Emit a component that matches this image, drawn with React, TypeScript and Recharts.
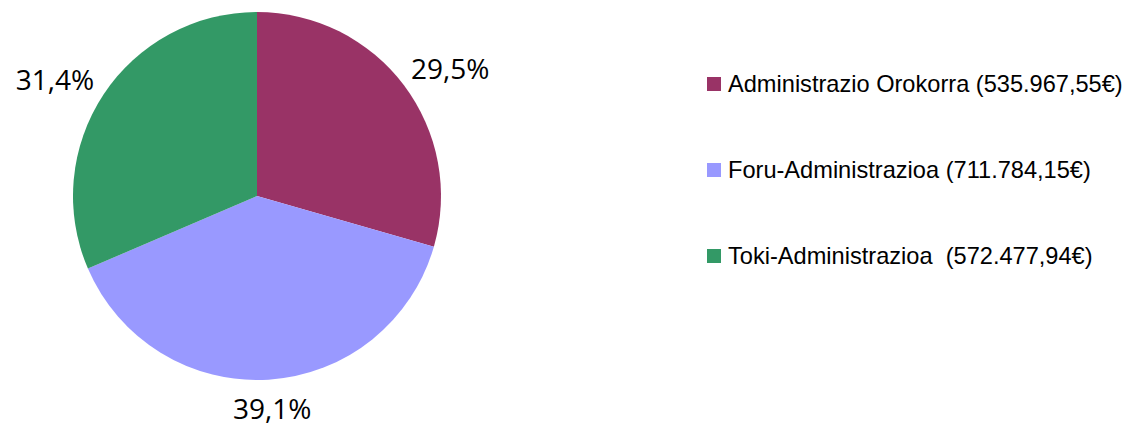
import { PieChart, Pie, Cell, Legend } from "recharts";

const names = [
  "Administrazio Orokorra (535.967,55€)",
  "Foru-Administrazioa (711.784,15€)",
  "Toki-Administrazioa  (572.477,94€)",
];
const amounts = [535967.55, 711784.15, 572477.94];
const pctLabels = ["29,5%", "39,1%", "31,4%"];
const colors = ["#993366", "#9999FF", "#339966"];

const data = names.map((name, i) => ({ name, value: amounts[i], pct: pctLabels[i] }));

const RAD = Math.PI / 180;

function renderLabel(props: any) {
  const { cx, cy, midAngle, outerRadius, index } = props;
  const cos = Math.cos(-midAngle * RAD);
  const sin = Math.sin(-midAngle * RAD);
  const r = outerRadius + 18;
  const x = cx + r * cos + 40 * cos;
  const y = cy + r * sin + 10 * sin;
  return (
    <text
      x={x}
      y={y}
      textAnchor="middle"
      dominantBaseline="central"
      fill="#000"
      fontSize={28}
      fontFamily="'Open Sans', sans-serif"
    >
      {pctLabels[index]}
    </text>
  );
}

function LegendBox({ payload }: any) {
  return (
    <div>
      {(payload || []).map((p: any, i: number) => (
        <div
          key={i}
          style={{
            display: "flex",
            alignItems: "center",
            height: 86,
            fontFamily: "'Liberation Sans', Arial, sans-serif",
            fontSize: 23.6,
            color: "#000",
            whiteSpace: "pre",
          }}
        >
          <span
            style={{
              display: "inline-block",
              flexShrink: 0,
              width: 14,
              height: 14,
              background: p.color,
              marginRight: 7,
            }}
          />
          {p.value}
        </div>
      ))}
    </div>
  );
}

export default function App() {
  return (
    <div style={{ position: "absolute", left: 0, top: 0, background: "#fff" }}>
      <PieChart width={1133} height={425} margin={{ top: 0, right: 0, bottom: 0, left: 0 }}>
        <Pie
          data={data}
          dataKey="value"
          nameKey="name"
          cx={257}
          cy={196}
          outerRadius={184}
          startAngle={90}
          endAngle={-270}
          stroke="none"
          label={renderLabel}
          labelLine={false}
          isAnimationActive={false}
        >
          {data.map((d, i) => (
            <Cell key={d.name} fill={colors[i]} />
          ))}
        </Pie>
        <Legend
          layout="vertical"
          content={<LegendBox />}
          wrapperStyle={{ left: 707, top: 41, width: 426 }}
        />
      </PieChart>
    </div>
  );
}
